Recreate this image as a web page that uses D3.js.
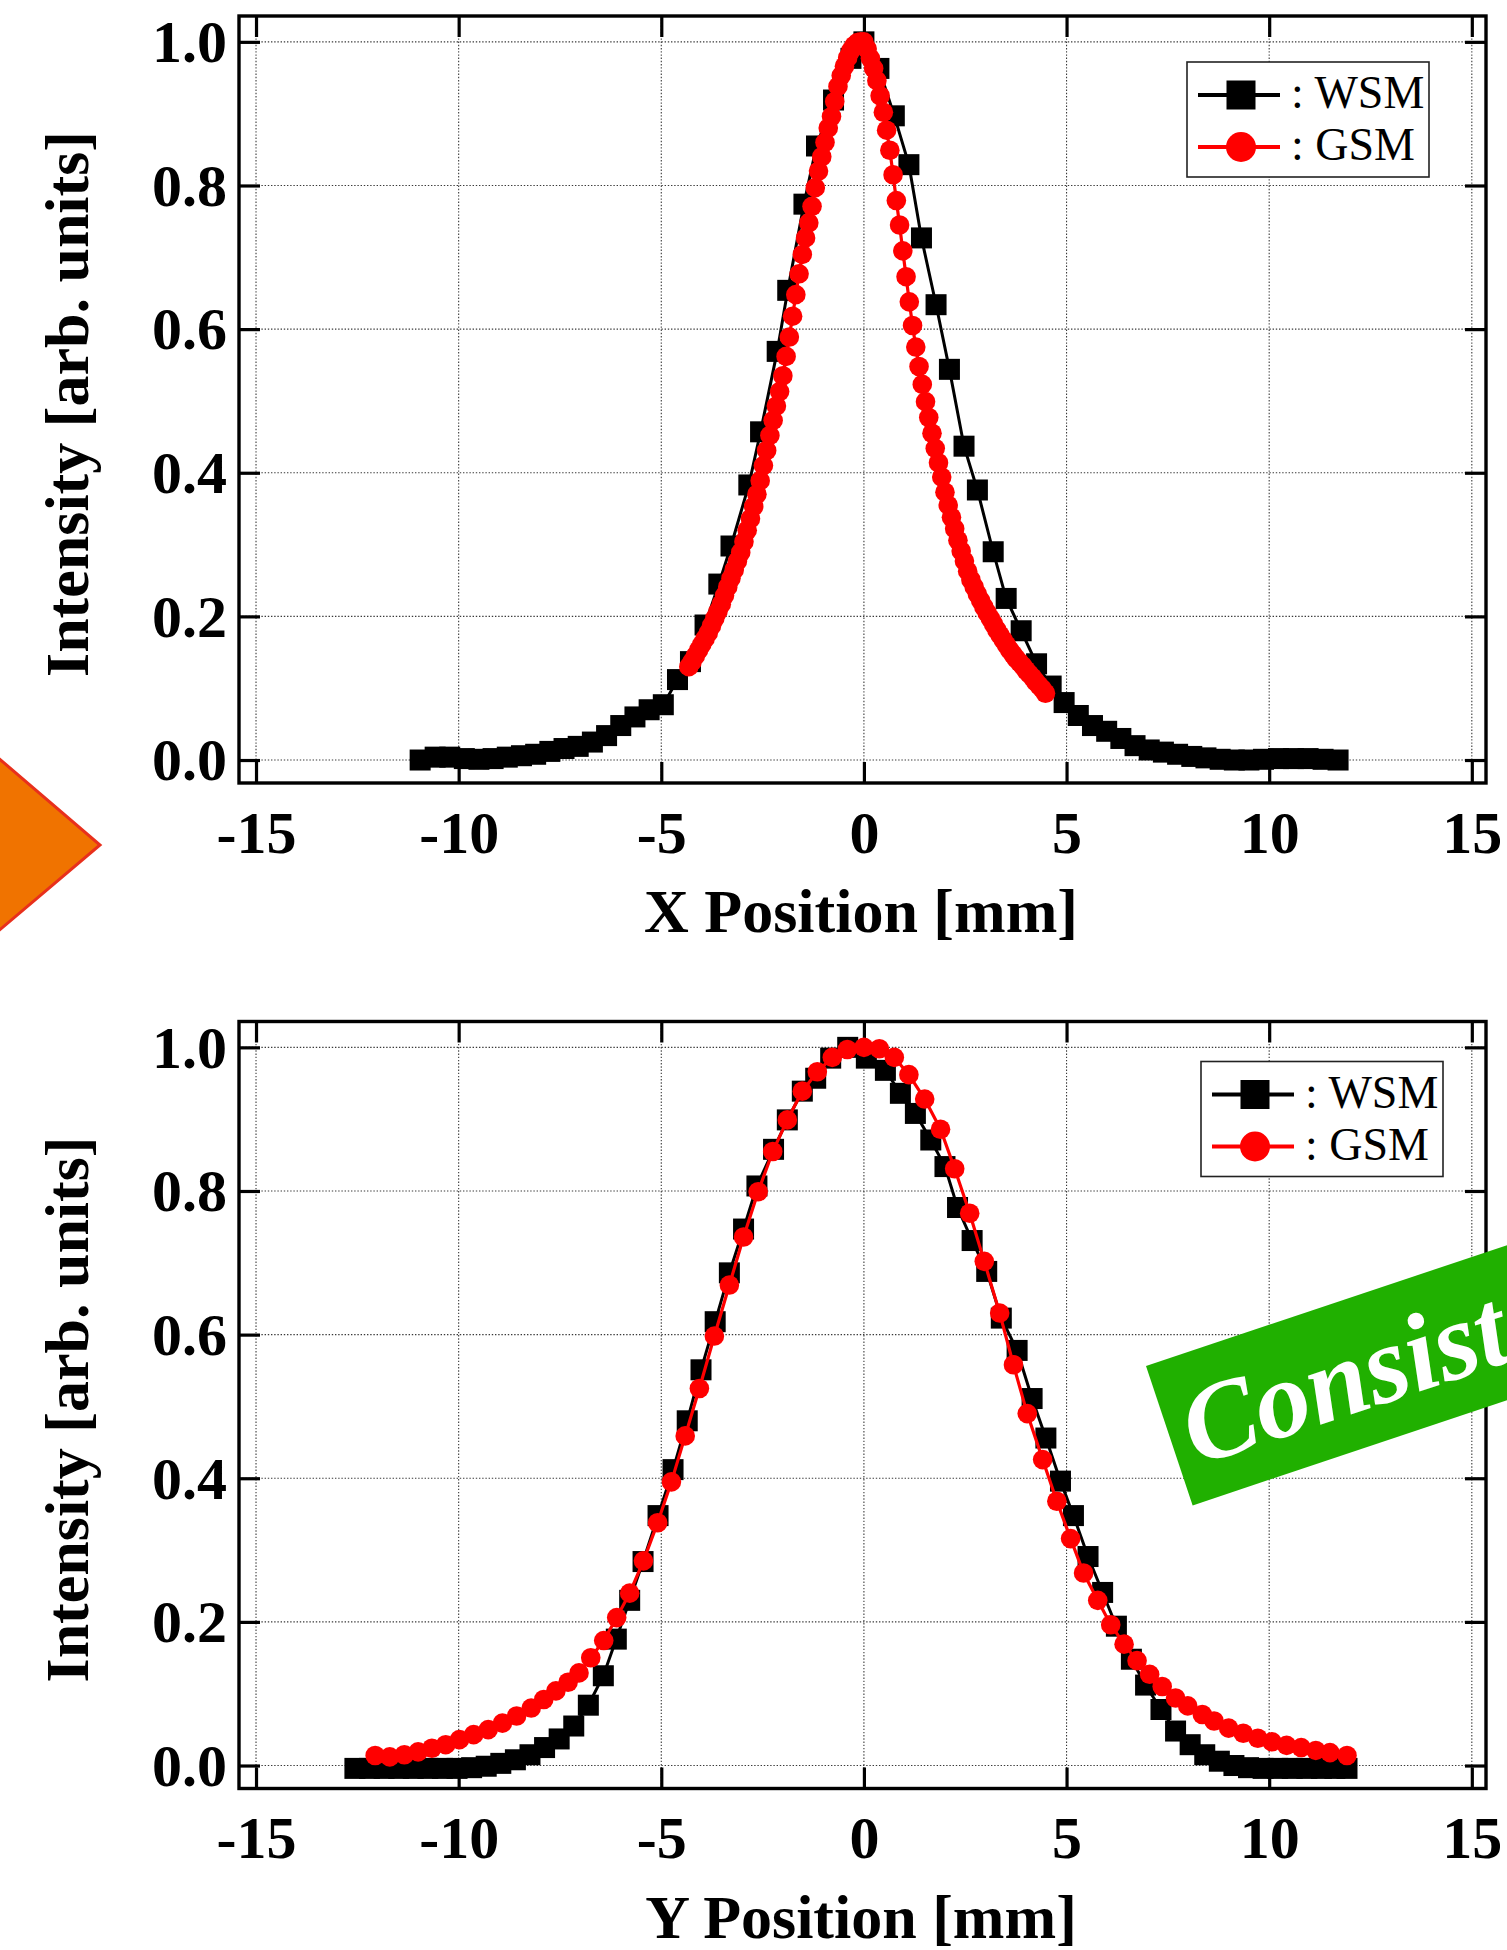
<!DOCTYPE html>
<html>
<head>
<meta charset="utf-8">
<script src="https://cdn.jsdelivr.net/npm/d3@7"></script>
<style>
  html, body { margin: 0; padding: 0; background: #ffffff; }
  svg { display: block; }
</style>
</head>
<body>
<svg id="fig" width="1507" height="1950"></svg>
<script>
// ---- axis ticks ----
const xTicks = [-15, -10, -5, 0, 5, 10, 15];
const xTickLabels = ["-15", "-10", "-5", "0", "5", "10", "15"];
const yTicks = [0, 0.2, 0.4, 0.6, 0.8, 1.0];
const yTickLabels = ["0.0", "0.2", "0.4", "0.6", "0.8", "1.0"];
const seriesNames = ["WSM", "GSM"];
const axisTitles = ["X Position [mm]", "Y Position [mm]"];
const yAxisTitle = "Intensity [arb. units]";
const bannerText = "Consistent";

// ---- horizontal (X) profile: wire scanner measurement ----
const wsmXPos = [-10.95,-10.58,-10.22,-9.86,-9.50,-9.15,-8.80,-8.45,-8.10,-7.75,-7.40,-7.05,-6.70,-6.35,-6.00,-5.65,-5.30,-4.95,
  -4.60,-4.28,-3.92,-3.58,-3.28,-2.84,-2.55,-2.14,-1.88,-1.48,-1.17,-0.75,-0.32,0.00,
  0.37,0.75,1.11,1.42,1.78,2.11,2.47,2.80,3.19,3.51,3.88,4.26,4.62,4.94,5.29,5.64,5.99,6.34,6.69,7.04,7.39,7.74,
  8.09,8.44,8.79,9.14,9.50,9.86,10.23,10.60,10.96,11.33,11.70];
const wsmXVal = [0.000,0.004,0.004,0.002,0.001,0.002,0.004,0.006,0.008,0.012,0.016,0.019,0.025,0.034,0.048,0.060,0.070,0.077,
  0.112,0.137,0.188,0.245,0.298,0.383,0.457,0.569,0.654,0.774,0.855,0.919,0.977,1.000,
  0.963,0.897,0.829,0.727,0.634,0.544,0.437,0.376,0.290,0.225,0.180,0.134,0.103,0.080,0.062,0.048,0.040,0.030,0.020,0.014,0.011,0.008,
  0.005,0.003,0.001,0.000,0.000,0.001,0.002,0.002,0.002,0.001,0.000];

// ---- horizontal (X) profile: simulation ----
const gsmXPos = [-4.32,-4.24,-4.16,-4.08,-4.00,-3.92,-3.84,-3.76,-3.68,-3.60,-3.52,-3.44,-3.36,-3.28,-3.20,-3.12,-3.04,-2.96,-2.88,-2.80,
  -2.72,-2.64,-2.56,-2.48,-2.40,-2.32,-2.24,-2.16,-2.08,-2.00,-1.92,-1.84,-1.76,-1.68,-1.60,-1.52,-1.44,-1.36,-1.28,-1.20,
  -1.12,-1.04,-0.96,-0.88,-0.80,-0.72,-0.64,-0.56,-0.48,-0.40,-0.32,-0.24,-0.16,-0.08,0.00,
  0.08,0.16,0.24,0.32,0.40,0.48,0.56,0.64,0.72,0.80,0.88,0.96,1.04,1.12,1.20,1.28,1.36,1.44,1.52,1.60,
  1.68,1.76,1.84,1.92,2.00,2.08,2.16,2.24,2.32,2.40,2.48,2.56,2.64,2.72,2.80,2.88,2.96,3.04,3.12,3.20,
  3.28,3.36,3.44,3.52,3.60,3.68,3.76,3.84,3.92,4.00,4.08,4.16,4.24,4.32,4.40,4.48];
const gsmXVal = [0.130,0.137,0.145,0.153,0.161,0.169,0.177,0.187,0.197,0.207,0.217,0.229,0.241,0.253,0.265,0.277,0.289,0.304,0.320,0.336,
  0.353,0.370,0.389,0.410,0.431,0.452,0.473,0.493,0.513,0.535,0.562,0.589,0.618,0.648,0.677,0.704,0.727,0.748,0.771,0.797,
  0.820,0.840,0.860,0.880,0.896,0.917,0.938,0.953,0.966,0.978,0.988,0.995,0.999,1.000,1.000,
  0.990,0.977,0.963,0.946,0.925,0.902,0.877,0.849,0.815,0.779,0.745,0.709,0.673,0.638,0.605,0.575,0.548,0.523,0.499,0.477,
  0.455,0.434,0.414,0.394,0.373,0.355,0.338,0.322,0.306,0.291,0.277,0.263,0.251,0.241,0.231,0.222,0.213,0.205,0.197,0.189,
  0.181,0.174,0.167,0.160,0.153,0.147,0.141,0.136,0.131,0.125,0.120,0.115,0.109,0.104,0.099,0.093];

// ---- vertical (Y) profile: wire scanner measurement ----
const wsmYPos = [-12.56,-12.20,-11.84,-11.48,-11.12,-10.76,-10.40,-10.04,-9.68,-9.32,-8.96,-8.60,-8.24,-7.88,-7.52,-7.16,
  -6.80,-6.43,-6.11,-5.78,-5.45,-5.08,-4.71,-4.36,-4.02,-3.67,-3.32,-2.97,-2.64,-2.23,-1.89,-1.52,-1.19,-0.82,-0.40,
  0.06,0.53,0.90,1.27,1.65,2.00,2.31,2.67,3.03,3.39,3.78,4.15,4.49,4.85,5.17,5.53,5.89,6.23,6.60,6.95,7.33,7.69,
  8.05,8.41,8.77,9.13,9.49,9.85,10.21,10.57,10.93,11.29,11.62,11.92];
const wsmYVal = [-0.004,-0.004,-0.004,-0.004,-0.004,-0.004,-0.004,-0.004,-0.003,-0.001,0.003,0.008,0.015,0.025,0.037,0.055,
  0.084,0.125,0.176,0.230,0.284,0.348,0.412,0.480,0.551,0.618,0.686,0.747,0.807,0.858,0.899,0.939,0.957,0.985,1.000,
  0.985,0.968,0.936,0.908,0.871,0.834,0.777,0.731,0.688,0.623,0.578,0.511,0.456,0.396,0.348,0.291,0.241,0.194,0.148,0.112,0.078,0.048,
  0.029,0.015,0.006,0.000,-0.003,-0.004,-0.004,-0.004,-0.004,-0.004,-0.004,-0.004];

// ---- vertical (Y) profile: simulation ----
const gsmYPos = [-12.06,-11.70,-11.34,-11.00,-10.66,-10.32,-9.98,-9.63,-9.27,-8.92,-8.57,-8.21,-7.90,-7.60,-7.30,-7.03,
  -6.74,-6.42,-6.10,-5.78,-5.44,-5.09,-4.75,-4.41,-4.06,-3.69,-3.32,-2.97,-2.61,-2.25,-1.89,-1.52,-1.15,-0.78,-0.41,0.00,
  0.38,0.75,1.11,1.50,1.89,2.24,2.61,2.97,3.35,3.69,4.03,4.41,4.76,5.10,5.42,5.77,6.09,6.42,6.74,7.05,7.36,7.69,
  7.99,8.35,8.64,9.00,9.36,9.72,10.07,10.43,10.79,11.15,11.50,11.92];
const gsmYVal = [0.014,0.012,0.015,0.019,0.024,0.029,0.036,0.043,0.050,0.059,0.069,0.080,0.092,0.104,0.116,0.129,
  0.150,0.174,0.206,0.240,0.285,0.338,0.395,0.459,0.525,0.598,0.669,0.736,0.799,0.855,0.899,0.939,0.966,0.986,0.997,1.000,
  0.998,0.986,0.962,0.928,0.886,0.831,0.769,0.702,0.630,0.558,0.490,0.426,0.368,0.316,0.268,0.230,0.196,0.169,0.146,0.127,0.110,0.094,
  0.083,0.071,0.062,0.052,0.045,0.038,0.033,0.028,0.025,0.021,0.018,0.014];

// ---- layout ----
const frameL = 239, frameR = 1486, frameH = 767;
const serif = "'Liberation Serif', 'Times New Roman', Times, serif";
const black = "#000000", red = "#ff0000";
const squareSide = 21, circleR = 9.8;

const svg = d3.select("#fig");
svg.append("rect").attr("width", 1507).attr("height", 1950).attr("fill", "#ffffff");

const x = d3.scaleLinear().domain([-15.42, 15.35]).range([frameL, frameR]);
const y = d3.scaleLinear().domain([-0.032, 1.036]).range([frameH, 0]);

const line = d3.line().x(d => x(d[0])).y(d => y(d[1]));

const panels = [
  { top: 16,     title: axisTitles[0], wsm: d3.zip(wsmXPos, wsmXVal), gsm: d3.zip(gsmXPos, gsmXVal), legendX: 1187, legendY: 46 },
  { top: 1021.5, title: axisTitles[1], wsm: d3.zip(wsmYPos, wsmYVal), gsm: d3.zip(gsmYPos, gsmYVal), legendX: 1201, legendY: 40 }
];

function styleTicks(g) {
  g.select(".domain").remove();
  g.selectAll(".tick line").attr("stroke", black).attr("stroke-width", 3.2);
}

panels.forEach(p => {
  const g = svg.append("g").attr("transform", `translate(0,${p.top})`);

  // dotted grid
  const grid = g.append("g").attr("stroke", "#3a3a3a").attr("stroke-width", 1.1).attr("stroke-dasharray", "1.4,1.8");
  grid.selectAll("line.v").data(xTicks).join("line").attr("class", "v")
    .attr("x1", d => x(d)).attr("x2", d => x(d)).attr("y1", 0).attr("y2", frameH);
  grid.selectAll("line.h").data(yTicks).join("line").attr("class", "h")
    .attr("x1", frameL).attr("x2", frameR).attr("y1", d => y(d)).attr("y2", d => y(d));

  // inward ticks on all four sides
  const bottomAxis = g.append("g").attr("transform", `translate(0,${frameH})`)
    .call(d3.axisBottom(x).tickValues(xTicks).tickSize(-21).tickPadding(27)
      .tickFormat((d, i) => xTickLabels[i]));
  styleTicks(bottomAxis);
  bottomAxis.selectAll("text").attr("font-family", serif).attr("font-weight", "bold")
    .attr("font-size", 60).attr("fill", black);

  const topAxis = g.append("g").call(d3.axisTop(x).tickValues(xTicks).tickSize(-21).tickFormat(""));
  styleTicks(topAxis);

  const leftAxis = g.append("g").attr("transform", `translate(${frameL},0)`)
    .call(d3.axisLeft(y).tickValues(yTicks).tickSize(-21).tickPadding(12)
      .tickFormat((d, i) => yTickLabels[i]));
  styleTicks(leftAxis);
  leftAxis.selectAll("text").attr("font-family", serif).attr("font-weight", "bold")
    .attr("font-size", 60).attr("fill", black).attr("dy", "0.33em");

  const rightAxis = g.append("g").attr("transform", `translate(${frameR},0)`)
    .call(d3.axisRight(y).tickValues(yTicks).tickSize(-21).tickFormat(""));
  styleTicks(rightAxis);

  // frame
  g.append("rect").attr("x", frameL).attr("y", 0).attr("width", frameR - frameL).attr("height", frameH)
    .attr("fill", "none").attr("stroke", black).attr("stroke-width", 3.4);

  // measured profile
  g.append("path").datum(p.wsm).attr("d", line).attr("fill", "none")
    .attr("stroke", black).attr("stroke-width", 3);
  g.append("g").selectAll("rect").data(p.wsm).join("rect")
    .attr("x", d => x(d[0]) - squareSide / 2).attr("y", d => y(d[1]) - squareSide / 2)
    .attr("width", squareSide).attr("height", squareSide).attr("fill", black);

  // simulated profile
  g.append("path").datum(p.gsm).attr("d", line).attr("fill", "none")
    .attr("stroke", red).attr("stroke-width", 3.2);
  g.append("g").selectAll("circle").data(p.gsm).join("circle")
    .attr("cx", d => x(d[0])).attr("cy", d => y(d[1])).attr("r", circleR).attr("fill", red);

  // legend
  const lg = g.append("g").attr("transform", `translate(${p.legendX},${p.legendY})`);
  lg.append("rect").attr("width", 242).attr("height", 115).attr("fill", "#ffffff")
    .attr("stroke", "#222").attr("stroke-width", 1.6);
  const rows = [{ name: seriesNames[0], color: black, cy: 33 }, { name: seriesNames[1], color: red, cy: 85 }];
  rows.forEach((r, i) => {
    lg.append("line").attr("x1", 11).attr("x2", 93).attr("y1", r.cy).attr("y2", r.cy)
      .attr("stroke", r.color).attr("stroke-width", 3.8);
    if (i === 0) {
      lg.append("rect").attr("x", 54 - 14.5).attr("y", r.cy - 14.5).attr("width", 29).attr("height", 29).attr("fill", r.color);
    } else {
      lg.append("circle").attr("cx", 54).attr("cy", r.cy).attr("r", 15).attr("fill", r.color);
    }
    lg.append("text").attr("x", 104).attr("y", r.cy + 13).attr("font-family", serif)
      .attr("font-size", 46).attr("fill", black).text(": " + r.name);
  });

  // axis titles
  g.append("text").attr("x", 861).attr("y", frameH + 149).attr("text-anchor", "middle")
    .attr("font-family", serif).attr("font-weight", "bold").attr("font-size", 62).attr("fill", black)
    .text(p.title);
  g.append("text").attr("transform", `translate(88,${388}) rotate(-90)`).attr("text-anchor", "middle")
    .attr("font-family", serif).attr("font-weight", "bold").attr("font-size", 62).attr("fill", black)
    .text(yAxisTitle);
});

// orange arrow tip on the left edge
svg.append("polygon")
  .attr("points", [[-4, 756], [100, 845], [-4, 933]].map(d => d.join(",")).join(" "))
  .attr("fill", "#f07300").attr("stroke", "#e8301c").attr("stroke-width", 3);

// green banner running off the right edge
const banner = svg.append("g").attr("transform", "translate(1146,1366) rotate(-18.5)");
banner.append("rect").attr("width", 640).attr("height", 147).attr("fill", "#20b000");
banner.append("text").attr("x", 16).attr("y", 111)
  .attr("font-family", serif).attr("font-weight", "bold").attr("font-style", "italic")
  .attr("font-size", 110).attr("fill", "#ffffff").text(bannerText);
</script>
</body>
</html>
